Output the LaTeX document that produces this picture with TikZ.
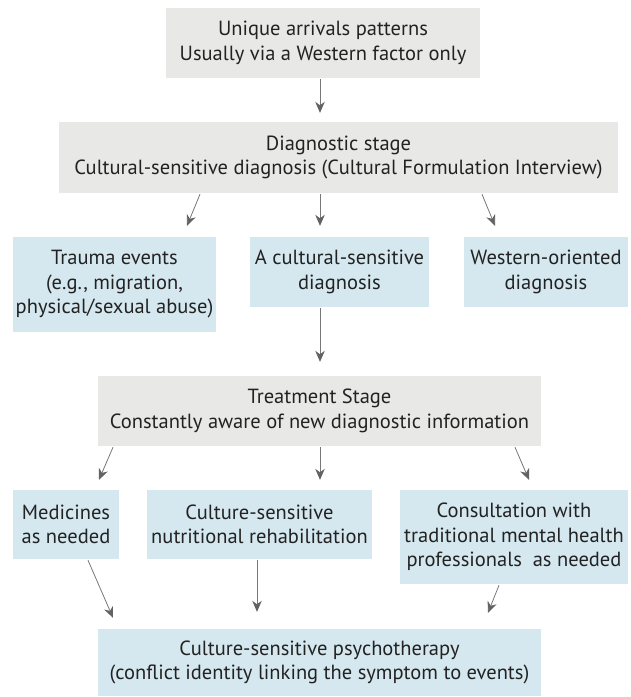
\documentclass[tikz,border=0pt]{standalone}
\usepackage{fontspec}
\setmainfont{PT Sans}
\usetikzlibrary{arrows.meta,calc}
\definecolor{gbox}{HTML}{E8E9E7}
\definecolor{bbox}{HTML}{D5E8EF}
\definecolor{txt}{HTML}{222222}
\definecolor{arrline}{HTML}{777777}
\definecolor{arrhead}{HTML}{626262}
\tikzset{
  box/.style={inner sep=0pt, align=center, text=txt,
    font=\fontsize{20.5}{24.5}\selectfont},
  graybox/.style={box, fill=gbox},
  bluebox/.style={box, fill=bbox},
  arr/.style={draw=arrline, line width=0.8pt,
    -{Stealth[length=11pt,width=9.5pt,inset=3.5pt,fill=arrhead,color=arrhead]}}
}
\begin{document}
\begin{tikzpicture}[x=1pt,y=-1pt]
\useasboundingbox (0,0) rectangle (631,697);
\node[graybox, minimum width=314, minimum height=70] (top) at (323,43)
  {Unique arrivals patterns\\Usually via a Western factor only};
\node[graybox, minimum width=559, minimum height=71] (diag) at (338.5,157.5)
  {Diagnostic stage\\Cultural-sensitive diagnosis (Cultural Formulation Interview)};
\node[bluebox, minimum width=203, minimum height=95] (trauma) at (114.5,284.5)
  {Trauma events\\(e.g., migration,\\physical/sexual abuse)};
\node[bluebox, minimum width=179, minimum height=70] (csd) at (339.5,272)
  {A cultural-sensitive\\diagnosis};
\node[bluebox, minimum width=164, minimum height=70] (west) at (546,272)
  {Western-oriented\\diagnosis};
\node[graybox, minimum width=443, minimum height=70] (treat) at (319.5,411)
  {Treatment Stage\\Constantly aware of new diagnostic information};
\node[bluebox, minimum width=106, minimum height=69] (med) at (66,524.5)
  {Medicines\\as needed};
\node[bluebox, minimum width=225, minimum height=69] (nut) at (259.5,524.5)
  {Culture-sensitive\\nutritional rehabilitation};
\node[bluebox, minimum width=228, minimum height=94] (cons) at (514,537)
  {Consultation with\\traditional mental health\\professionals~ as needed};
\node[bluebox, minimum width=443, minimum height=67] (psy) at (319.5,662.5)
  {Culture-sensitive psychotherapy\\(conflict identity linking the symptom to events)};
% connectors
\draw[arr] ($(top.south)+(-3,1)$) -- ($(diag.north)+(-18.5,-9)$);
\draw[arr] ($(diag.south)+(-138.5,1)$) -- ($(trauma.north)+(72.5,-11)$);
\draw[arr] ($(diag.south)+(-18.5,1)$) -- ($(csd.north)+(-19.5,-11)$);
\draw[arr] ($(diag.south)+(143.5,1)$) -- ($(west.north)+(-51,-11)$);
\draw[arr] ($(csd.south)+(-19.5,1)$) -- ($(treat.north)+(0.5,-14)$);
\draw[arr] ($(treat.south)+(-206.5,1)$) -- ($(med.north)+(33,-10)$);
\draw[arr] ($(treat.south)+(0.5,1)$) -- ($(nut.north)+(60.5,-10)$);
\draw[arr] ($(treat.south)+(195.5,1)$) -- ($(cons.north)+(15,-10)$);
\draw[arr] ($(med.south)+(22,1)$) -- ($(psy.north)+(-206.5,-11)$);
\draw[arr] ($(nut.south)+(-2.5,1)$) -- ($(psy.north)+(-62.5,-17)$);
\draw[arr] ($(cons.south)+(-15,1)$) -- ($(psy.north)+(168.5,-16)$);
\end{tikzpicture}
\end{document}
